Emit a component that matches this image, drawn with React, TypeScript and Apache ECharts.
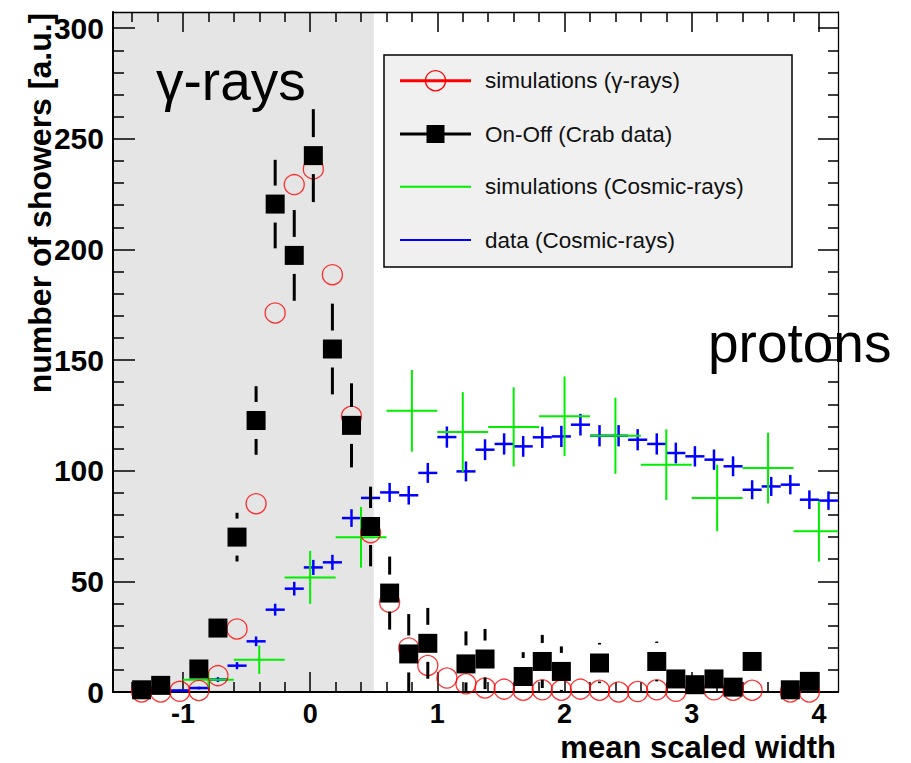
import React, { useEffect, useRef } from 'react';
import * as echarts from 'echarts';

// ---------- axis ranges & ticks ----------
const X_MIN = -1.55;
const X_MAX = 4.15;
const Y_MIN = 0;
const Y_MAX = 307.3;
const GAMMA_CUT = 0.5;
const X_MAJOR_TICKS = [-1, 0, 1, 2, 3, 4];
const X_MINOR_TICKS = [-1.4, -1.2, -0.8, -0.6, -0.4, -0.2, 0.2, 0.4, 0.6, 0.8, 1.2, 1.4, 1.6, 1.8, 2.2, 2.4, 2.6, 2.8, 3.2, 3.4, 3.6, 3.8];
const Y_MAJOR_TICKS = [0, 50, 100, 150, 200, 250, 300];
const Y_MINOR_TICKS = [10, 20, 30, 40, 60, 70, 80, 90, 110, 120, 130, 140, 160, 170, 180, 190, 210, 220, 230, 240, 260, 270, 280, 290];

// ---------- data: fine binning (width 0.15) ----------
const FINE_BIN_WIDTH = 0.15;
const FINE_BINS = [-1.325, -1.175, -1.025, -0.875, -0.725, -0.575, -0.425, -0.275, -0.125, 0.025, 0.175, 0.325, 0.475, 0.625, 0.775, 0.925, 1.075, 1.225, 1.375, 1.525, 1.675, 1.825, 1.975, 2.125, 2.275, 2.425, 2.575, 2.725, 2.875, 3.025, 3.175, 3.325, 3.475, 3.625, 3.775, 3.925, 4.075];
const GAMMA_SIM = [0, 0, 0.3, 0.7, 7.4, 28.5, 85.1, 171.3, 229.3, 236.4, 188.6, 124.6, 72, 40.5, 19.9, 12, 6.3, 3.7, 1.8, 1.3, 0.8, 1, 0.8, 1.3, 0.8, 0, 0.2, 1, 0.3, null, 1, 0.8, 0.8, null, 0, 0, null];
const CRAB_ONOFF = [1, 3, null, 10.4, 28.9, 70, 122.7, 220.5, 197.3, 242.4, 155, 120.5, 74.8, 44.7, 17.2, 22, null, 12.7, 14.9, null, 7, 13.8, 9.3, null, 13.1, null, null, 13.8, 5.9, 3.3, 5.9, 2.2, 13.8, null, 1, 4.8, null];
const CRAB_ONOFF_ERR = [3, 3, null, 5, 5, 11, 15.5, 20, 20.5, 21, 20.5, 19, 18, 16.5, 18, 16, null, 14.7, 13.6, null, 11, 12, 11.3, null, 9.1, null, null, 9, 5, 6, 5, 4, 5, null, 3, 4, null];
const CR_DATA = [null, 0.7, 0.7, 1.8, 5.6, 11.9, 22.9, 37.2, 46.7, 56.3, 58.6, 78.6, 87.7, 90.2, 88.9, 99.0, 115.2, 99.7, 109.5, 112.1, 111.0, 115.1, 115.5, 120.8, 115.8, 115.8, 114.0, 112.1, 108.0, 106.5, 105.0, 102.0, 91.4, 92.9, 93.7, 86.9, 86.5];
const CR_DATA_ERR = [null, 0.4, 0.4, 0.6, 1.1, 1.6, 2.2, 2.7, 3.1, 3.4, 3.4, 4.0, 4.2, 4.3, 4.2, 4.5, 4.8, 4.5, 4.7, 4.8, 4.7, 4.8, 4.8, 4.9, 4.8, 4.8, 4.8, 4.8, 4.7, 4.6, 4.6, 4.5, 4.3, 4.3, 4.4, 4.2, 4.2];

// ---------- data: coarse binning (width 0.4) ----------
const COARSE_BIN_WIDTH = 0.4;
const COARSE_BINS = [-0.8, -0.4, 0, 0.4, 0.8, 1.2, 1.6, 2.0, 2.4, 2.8, 3.2, 3.6, 4.0];
const CR_SIM = [5.5, 14.6, 51.8, 69.9, 127.1, 117.5, 119.8, 124.6, 115.8, 102.7, 87.7, 101.2, 72.6];
const CR_SIM_ERR = [3.5, 6.4, 12, 13.7, 18.5, 18, 17.9, 18, 17.2, 16, 15, 16, 13.7];

const LEGEND_LABELS = ['simulations (γ-rays)', 'On-Off (Crab data)', 'simulations (Cosmic-rays)', 'data (Cosmic-rays)'];

const FONT = '"Liberation Sans", Arial, Helvetica, sans-serif';
const RED = '#ff0000';
const GREEN = '#00ee00';
const BLUE = '#0000ff';

function triples(xs: number[], ys: (number | null)[], es: (number | null)[]) {
  const out: number[][] = [];
  xs.forEach((x, i) => {
    const y = ys[i];
    if (y !== null && y !== undefined) out.push([x, y, (es[i] ?? 0) as number]);
  });
  return out;
}

function crossRenderer(halfWidth: number, color: string, lw: number) {
  return (_params: any, api: any) => {
    const x = api.value(0);
    const y = api.value(1);
    const e = api.value(2);
    const l = api.coord([Math.max(x - halfWidth, X_MIN), y]);
    const r = api.coord([Math.min(x + halfWidth, X_MAX), y]);
    const t = api.coord([x, Math.min(y + e, Y_MAX)]);
    const b = api.coord([x, Math.max(y - e, Y_MIN)]);
    return {
      type: 'group',
      children: [
        { type: 'line', shape: { x1: l[0], y1: l[1], x2: r[0], y2: r[1] }, style: { stroke: color, lineWidth: lw } },
        { type: 'line', shape: { x1: t[0], y1: t[1], x2: b[0], y2: b[1] }, style: { stroke: color, lineWidth: lw } },
      ],
    };
  };
}

function squareRenderer(_params: any, api: any) {
  const half = 9.5;
  const gap = 18.5;
  const x = api.value(0);
  const y = api.value(1);
  const e = api.value(2);
  const c = api.coord([x, y]);
  const t = api.coord([x, Math.min(y + e, Y_MAX)]);
  const b = api.coord([x, Math.max(y - e, Y_MIN)]);
  const children: any[] = [];
  if (t[1] < c[1] - gap) {
    children.push({ type: 'line', shape: { x1: c[0], y1: t[1], x2: c[0], y2: c[1] - gap }, style: { stroke: '#000', lineWidth: 3 } });
  }
  if (b[1] > c[1] + gap) {
    children.push({ type: 'line', shape: { x1: c[0], y1: c[1] + gap, x2: c[0], y2: b[1] }, style: { stroke: '#000', lineWidth: 3 } });
  }
  children.push({ type: 'rect', shape: { x: c[0] - half, y: c[1] - half, width: 2 * half, height: 2 * half }, style: { fill: '#000' } });
  return { type: 'group', children };
}

function axisBase(extra: any) {
  return {
    type: 'value',
    gridIndex: 0,
    z: 3,
    splitLine: { show: false },
    minorTick: { show: false },
    minorSplitLine: { show: false },
    ...extra,
  };
}

function buildOption() {
  const tickStyle = { color: '#000', width: 1.5 };
  const xAxes = [
    axisBase({
      min: X_MIN, max: X_MAX, position: 'bottom',
      axisLine: { show: true, onZero: false, lineStyle: { color: '#000', width: 2 } },
      axisTick: { show: true, inside: true, length: 20, customValues: X_MAJOR_TICKS, lineStyle: tickStyle },
      axisLabel: { show: true, customValues: X_MAJOR_TICKS, margin: 8, color: '#000', fontSize: 27, fontWeight: 'bold', fontFamily: FONT, formatter: (v: number) => String(v) },
    }),
    axisBase({
      min: X_MIN, max: X_MAX, position: 'bottom',
      axisLine: { show: false, onZero: false },
      axisTick: { show: true, inside: true, length: 10, customValues: X_MINOR_TICKS, lineStyle: tickStyle },
      axisLabel: { show: false },
    }),
    axisBase({
      min: X_MIN, max: X_MAX, position: 'top',
      axisLine: { show: true, onZero: false, lineStyle: { color: '#000', width: 1.3 } },
      axisTick: { show: true, inside: true, length: 20, customValues: X_MAJOR_TICKS, lineStyle: tickStyle },
      axisLabel: { show: false },
    }),
    axisBase({
      min: X_MIN, max: X_MAX, position: 'top',
      axisLine: { show: false, onZero: false },
      axisTick: { show: true, inside: true, length: 10, customValues: X_MINOR_TICKS, lineStyle: tickStyle },
      axisLabel: { show: false },
    }),
  ];
  const yAxes = [
    axisBase({
      min: Y_MIN, max: Y_MAX, position: 'left',
      axisLine: { show: true, onZero: false, lineStyle: { color: '#000', width: 2 } },
      axisTick: { show: true, inside: true, length: 22, customValues: Y_MAJOR_TICKS, lineStyle: tickStyle },
      axisLabel: { show: true, customValues: Y_MAJOR_TICKS, margin: 9, color: '#000', fontSize: 30, fontWeight: 'bold', fontFamily: FONT, formatter: (v: number) => String(v) },
    }),
    axisBase({
      min: Y_MIN, max: Y_MAX, position: 'left',
      axisLine: { show: false, onZero: false },
      axisTick: { show: true, inside: true, length: 11, customValues: Y_MINOR_TICKS, lineStyle: tickStyle },
      axisLabel: { show: false },
    }),
    axisBase({
      min: Y_MIN, max: Y_MAX, position: 'right',
      axisLine: { show: true, onZero: false, lineStyle: { color: '#000', width: 1.3 } },
      axisTick: { show: true, inside: true, length: 20, customValues: Y_MAJOR_TICKS, lineStyle: tickStyle },
      axisLabel: { show: false },
    }),
    axisBase({
      min: Y_MIN, max: Y_MAX, position: 'right',
      axisLine: { show: false, onZero: false },
      axisTick: { show: true, inside: true, length: 10, customValues: Y_MINOR_TICKS, lineStyle: tickStyle },
      axisLabel: { show: false },
    }),
  ];

  const gammaData = triples(FINE_BINS, GAMMA_SIM, GAMMA_SIM.map(() => 0)).map((d) => [d[0], d[1]]);
  const crabData = triples(FINE_BINS, CRAB_ONOFF, CRAB_ONOFF_ERR);
  const crData = triples(FINE_BINS, CR_DATA, CR_DATA_ERR);
  const crSim = triples(COARSE_BINS, CR_SIM, CR_SIM_ERR);

  // legend (drawn with graphic elements)
  const legendX = 384, legendY = 55, legendW = 408, legendH = 212;
  const rowY = [80.7, 134, 186.7, 240];
  const lineX1 = 400, lineX2 = 471, markX = 435.5, textX = 485;
  const legendChildren: any[] = [
    { type: 'rect', shape: { x: legendX, y: legendY, width: legendW, height: legendH }, style: { fill: '#f0f0f0', stroke: '#000', lineWidth: 1.5 } },
    { type: 'line', shape: { x1: lineX1, y1: rowY[0], x2: lineX2, y2: rowY[0] }, style: { stroke: RED, lineWidth: 3 } },
    { type: 'circle', shape: { cx: markX, cy: rowY[0], r: 10 }, style: { fill: 'none', stroke: RED, lineWidth: 1.3 } },
    { type: 'line', shape: { x1: lineX1, y1: rowY[1], x2: lineX2, y2: rowY[1] }, style: { stroke: '#000', lineWidth: 3 } },
    { type: 'rect', shape: { x: markX - 9, y: rowY[1] - 9, width: 18, height: 18 }, style: { fill: '#000' } },
    { type: 'line', shape: { x1: lineX1, y1: rowY[2], x2: lineX2, y2: rowY[2] }, style: { stroke: GREEN, lineWidth: 2 } },
    { type: 'line', shape: { x1: lineX1, y1: rowY[3], x2: lineX2, y2: rowY[3] }, style: { stroke: BLUE, lineWidth: 2 } },
  ];
  LEGEND_LABELS.forEach((label, i) => {
    legendChildren.push({
      type: 'text', x: textX, y: rowY[i],
      style: { text: label, fill: '#111', fontSize: 22.5, fontFamily: FONT, align: 'left', verticalAlign: 'middle' },
    });
  });

  return {
    animation: false,
    backgroundColor: '#ffffff',
    grid: { left: 113, top: 12, width: 725, height: 680, containLabel: false, outerBoundsMode: 'none' },
    xAxis: xAxes,
    yAxis: yAxes,
    series: [
      {
        type: 'custom', name: 'gamma region', z: 1, silent: true, clip: false,
        data: [[GAMMA_CUT, Y_MAX]],
        encode: { x: 0, y: 1 },
        renderItem: (_p: any, api: any) => {
          const p0 = api.coord([X_MIN, Y_MAX]);
          const p1 = api.coord([api.value(0), Y_MIN]);
          return { type: 'rect', shape: { x: p0[0], y: p0[1], width: p1[0] - p0[0], height: p1[1] - p0[1] }, style: { fill: '#e5e5e5' } };
        },
      },
      {
        type: 'custom', name: LEGEND_LABELS[3], z: 4, silent: true, clip: false,
        data: crData, encode: { x: 0, y: 1 },
        renderItem: crossRenderer(FINE_BIN_WIDTH / 2, BLUE, 2.5),
      },
      {
        type: 'custom', name: LEGEND_LABELS[2], z: 5, silent: true, clip: false,
        data: crSim, encode: { x: 0, y: 1 },
        renderItem: crossRenderer(COARSE_BIN_WIDTH / 2, GREEN, 2),
      },
      {
        type: 'scatter', name: LEGEND_LABELS[0], z: 6, silent: true, clip: false,
        data: gammaData,
        symbol: 'circle', symbolSize: 20,
        itemStyle: { color: 'rgba(255,255,255,0)', borderColor: RED, borderWidth: 1.3 },
        emphasis: { disabled: true },
      },
      {
        type: 'custom', name: LEGEND_LABELS[1], z: 7, silent: true, clip: false,
        data: crabData, encode: { x: 0, y: 1 },
        renderItem: squareRenderer,
      },
    ],
    graphic: [
      { type: 'group', z: 100, children: legendChildren },
      { type: 'text', z: 100, x: 156, y: 81, style: { text: 'γ-rays', fill: '#000', fontSize: 55, fontFamily: FONT, align: 'left', verticalAlign: 'middle' } },
      { type: 'text', z: 100, x: 708, y: 343, style: { text: 'protons', fill: '#000', fontSize: 55, fontFamily: FONT, align: 'left', verticalAlign: 'middle' } },
      { type: 'text', z: 100, x: 40, y: 203, rotation: Math.PI / 2, style: { text: 'number of showers [a.u.]', fill: '#000', fontSize: 32, fontWeight: 'bold', fontFamily: FONT, align: 'center', verticalAlign: 'middle' } },
      { type: 'text', z: 100, x: 836, y: 747, style: { text: 'mean scaled width', fill: '#000', fontSize: 31, fontWeight: 'bold', fontFamily: FONT, align: 'right', verticalAlign: 'middle' } },
    ],
  };
}

export default function App() {
  const ref = useRef<HTMLDivElement>(null);
  useEffect(() => {
    document.body.style.margin = '0';
    const chart = echarts.init(ref.current!, null, { renderer: 'svg' });
    chart.setOption(buildOption() as any);
    return () => chart.dispose();
  }, []);
  return <div ref={ref} style={{ position: 'absolute', left: 0, top: 0, width: 911, height: 763 }} />;
}
